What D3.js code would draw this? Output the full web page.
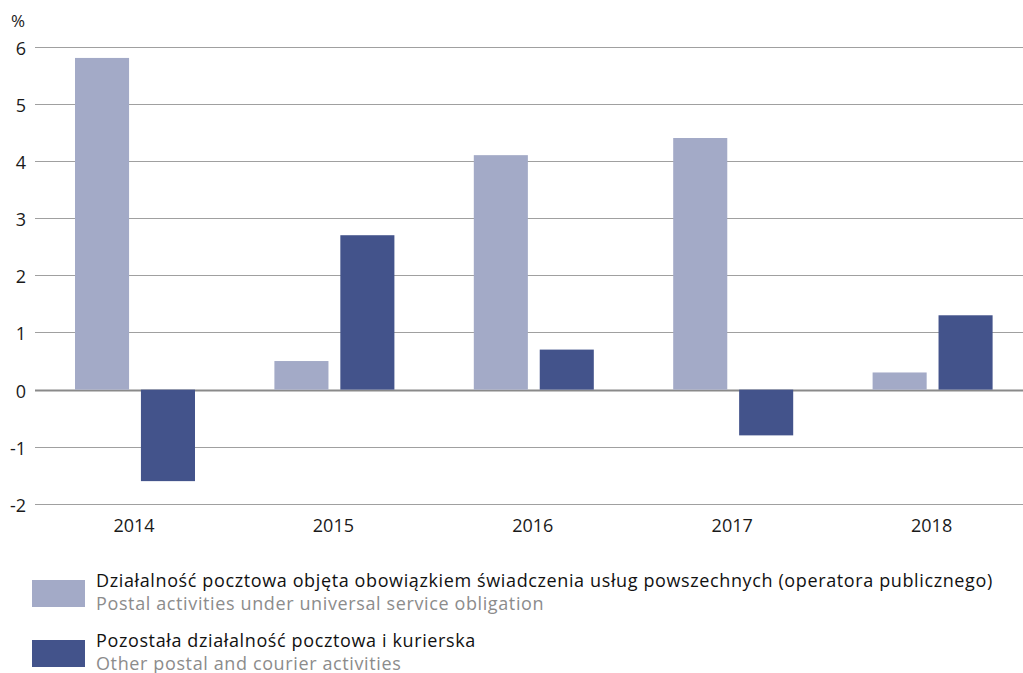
<!DOCTYPE html>
<html>
<head>
<meta charset="utf-8">
<script src="https://cdn.jsdelivr.net/npm/d3@7"></script>
<style>
  body { margin: 0; background: #fff; }
  text { font-family: "Open Sans", "Noto Sans", sans-serif; }
</style>
</head>
<body>
<div id="chart"></div>
<script>
const years = ['2014', '2015', '2016', '2017', '2018'];
const universalService = [5.8, 0.5, 4.1, 4.4, 0.3];
const otherCourier = [-1.6, 2.7, 0.7, -0.8, 1.3];
const yTicks = [-2, -1, 0, 1, 2, 3, 4, 5, 6];
const seriesNames = ['universal', 'other'];
const legendLabels = [
  ['Działalność pocztowa objęta obowiązkiem świadczenia usług powszechnych (operatora publicznego)', 'Postal activities under universal service obligation'],
  ['Pozostała działalność pocztowa i kurierska', 'Other postal and courier activities']
];
const colors = ['#a3aac7', '#43538b'];

const width = 1023;
const height = 673;

const svg = d3.select('#chart')
  .append('svg')
  .attr('width', width)
  .attr('height', height);

const x = d3.scaleBand()
  .domain(years)
  .range([35, 1032]);

const xInner = d3.scaleBand()
  .domain(seriesNames)
  .range([40, 160])
  .paddingInner(0.18);

const y = d3.scaleLinear()
  .domain([-2, 6])
  .range([504, 46.5]);

// grid lines
svg.append('g')
  .selectAll('line')
  .data(yTicks)
  .enter()
  .append('line')
  .attr('x1', 35)
  .attr('x2', width)
  .attr('y1', d => Math.round(y(d)) + 0.5)
  .attr('y2', d => Math.round(y(d)) + 0.5)
  .attr('stroke', d => d === 0 ? '#8a8a8a' : '#a0a0a0')
  .attr('stroke-width', d => d === 0 ? 2 : 1.2);

// y axis labels
svg.append('g')
  .selectAll('text')
  .data(yTicks)
  .enter()
  .append('text')
  .attr('x', 26)
  .attr('y', d => y(d) + 8)
  .attr('text-anchor', 'end')
  .attr('font-size', 18)
  .attr('fill', '#1a1a1a')
  .text(d => d);

svg.append('text')
  .attr('x', 11)
  .attr('y', 27)
  .attr('font-size', 17)
  .attr('fill', '#1a1a1a')
  .text('%');

// bars
const rows = years.map((yr, i) => ({year: yr, values: [universalService[i], otherCourier[i]]}));

const groups = svg.append('g')
  .selectAll('g')
  .data(rows)
  .enter()
  .append('g')
  .attr('transform', d => `translate(${x(d.year)},0)`);

groups.selectAll('rect')
  .data(d => d.values.map((v, j) => ({key: seriesNames[j], value: v, j})))
  .enter()
  .append('rect')
  .attr('x', d => xInner(d.key))
  .attr('width', xInner.bandwidth())
  .attr('y', d => y(Math.max(0, d.value)))
  .attr('height', d => Math.abs(y(d.value) - y(0)))
  .attr('fill', d => colors[d.j]);

// x axis labels
svg.append('g')
  .selectAll('text')
  .data(years)
  .enter()
  .append('text')
  .attr('x', d => x(d) + 99)
  .attr('y', 532)
  .attr('text-anchor', 'middle')
  .attr('font-size', 18)
  .attr('fill', '#1a1a1a')
  .text(d => d);

// legend
const legend = svg.append('g')
  .selectAll('g')
  .data(legendLabels)
  .enter()
  .append('g')
  .attr('transform', (d, i) => `translate(32,${580 + i * 60})`);

legend.append('rect')
  .attr('width', 53)
  .attr('height', 27)
  .attr('fill', (d, i) => colors[i]);

legend.append('text')
  .attr('x', 64)
  .attr('y', 7)
  .attr('font-size', 18)
  .attr('letter-spacing', 0.62)
  .attr('fill', '#111')
  .text(d => d[0]);

legend.append('text')
  .attr('x', 64)
  .attr('y', 30)
  .attr('font-size', 18)
  .attr('letter-spacing', 0.62)
  .attr('fill', '#8c8c8c')
  .text(d => d[1]);
</script>
</body>
</html>
